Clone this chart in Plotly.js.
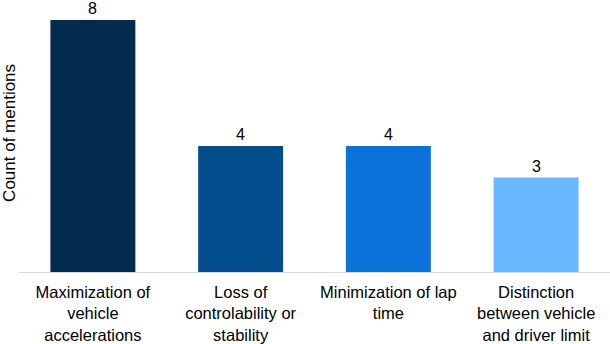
<!DOCTYPE html>
<html>
<head>
<meta charset="utf-8">
<script src="https://cdn.plot.ly/plotly-3.0.1.min.js"></script>
<style>
  html, body { margin: 0; padding: 0; background: #fff; }
  #chart { width: 610px; height: 344px; }
</style>
</head>
<body>
<div id="chart"></div>
<script>
// categories and counts
var categories = [
  'Maximization of<br>vehicle<br>accelerations',
  'Loss of<br>controlability or<br>stability',
  'Minimization of lap<br>time',
  'Distinction<br>between vehicle<br>and driver limit'
];
var counts = [8, 4, 4, 3];
var barColors = ['#022B4D', '#034D8D', '#0A72D9', '#67B8FF'];

var trace1 = {
  type: 'bar',
  x: categories,
  y: counts,
  marker: { color: barColors },
  hoverinfo: 'none'
};

// value labels above each bar
var labels = counts.map(function (v, i) {
  return {
    x: categories[i], y: v, xref: 'x', yref: 'y',
    text: String(v), showarrow: false,
    yanchor: 'bottom', yshift: 1,
    font: { family: 'Liberation Sans, Arial, sans-serif', size: 16, color: '#000' }
  };
});

// y title as annotation, it sits a bit above centre in the original
labels.push({
  xref: 'paper', yref: 'paper', x: 0, xshift: -21, y: 0.55,
  text: 'Count of mentions', showarrow: false, textangle: -90,
  font: { family: 'Liberation Sans, Arial, sans-serif', size: 17, color: '#000' }
});

var layout = {
  width: 610,
  height: 344,
  margin: { l: 19, r: 0, t: 20, b: 72 },
  paper_bgcolor: '#fff',
  plot_bgcolor: '#fff',
  bargap: 0.425,
  showlegend: false,
  font: { family: 'Liberation Sans, Arial, sans-serif', size: 16.5, color: '#000' },
  xaxis: {
    showline: true, linecolor: '#d9d9d9', linewidth: 1,
    ticks: '', showgrid: false, zeroline: false,
    tickfont: { size: 16.5 },
    ticklabelstandoff: 5
  },
  yaxis: {
    range: [0, 8], showticklabels: false, showgrid: false,
    zeroline: false, ticks: '', showline: false
  },
  annotations: labels
};

Plotly.newPlot('chart', [trace1], layout, { displayModeBar: false, staticPlot: true });
</script>
</body>
</html>
